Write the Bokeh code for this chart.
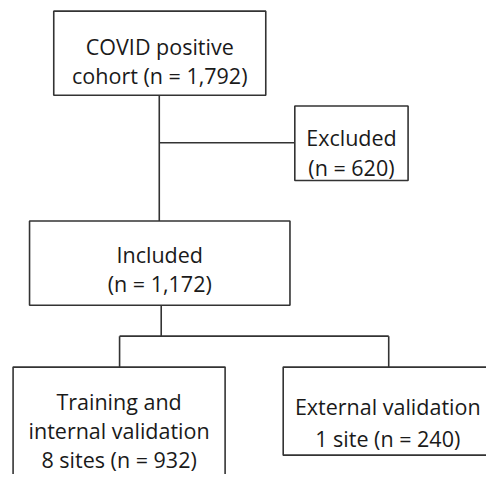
from bokeh.plotting import figure
from bokeh.models import Range1d, ColumnDataSource
from bokeh.core.properties import value
from bokeh.embed import file_html
from bokeh.resources import INLINE

# ---- data ----
stages = ["COVID positive cohort", "Excluded", "Included",
          "Training and internal validation", "External validation"]
counts = ["1,792", "620", "1,172", "932", "240"]
sites = [None, None, None, 8, 1]

# text lines per box (built from data)
box_lines = [
    ["COVID positive", f"cohort (n = {counts[0]})"],
    ["Excluded", f"(n = {counts[1]})"],
    ["Included", f"(n = {counts[2]})"],
    ["Training and", "internal validation", f"{sites[3]} sites (n = {counts[3]})"],
    ["External validation", f"{sites[4]} site (n = {counts[4]})"],
]

# ---- layout (in the reference's 502x490 pixel space) ----
box_left = [55, 304, 30, 13, 292]
box_right = [274, 421, 299, 232, 515]
box_top = [11, 109, 228, 379, 379]
box_bottom = [98, 186, 315, 520, 470]
box_cx = [164.5, 362.5, 164.5, 122.5, 400]
first_baseline = [48, 142, 263, 415, 420]
line_gap = [30, 31, 30, 30, 33]

W, H = 486, 474
p = figure(width=W, height=H, output_backend="svg", toolbar_location=None,
           x_range=Range1d(0, 502), y_range=Range1d(490, 0),
           min_border=0)
p.axis.visible = False
p.grid.visible = False
p.outline_line_color = None
p.background_fill_color = "white"
p.border_fill_color = "white"

LC = "#333333"
LW = 1.6

# connectors
xs = [[164, 164], [164, 304], [166, 166], [123, 401], [123, 123], [401, 401]]
ys = [[98, 228], [147, 147], [315, 347], [347, 347], [347, 379], [347, 379]]
p.multi_line(xs=xs, ys=ys, line_color=LC, line_width=LW)

p.quad(left=box_left, right=box_right, top=box_top, bottom=box_bottom,
       fill_color="white", line_color=LC, line_width=LW)

tx, ty, tt = [], [], []
for i, lines in enumerate(box_lines):
    for j, t in enumerate(lines):
        tx.append(box_cx[i])
        ty.append(first_baseline[i] + j * line_gap[i])
        tt.append(t)
src = ColumnDataSource(dict(x=tx, y=ty, text=tt))
p.text(x="x", y="y", text="text", source=src, text_align="center",
       text_baseline="alphabetic", text_font=value("Open Sans"),
       text_font_size="21.5px", text_color="#1a1a1a")

open("out.html", "w").write(file_html(p, INLINE))
